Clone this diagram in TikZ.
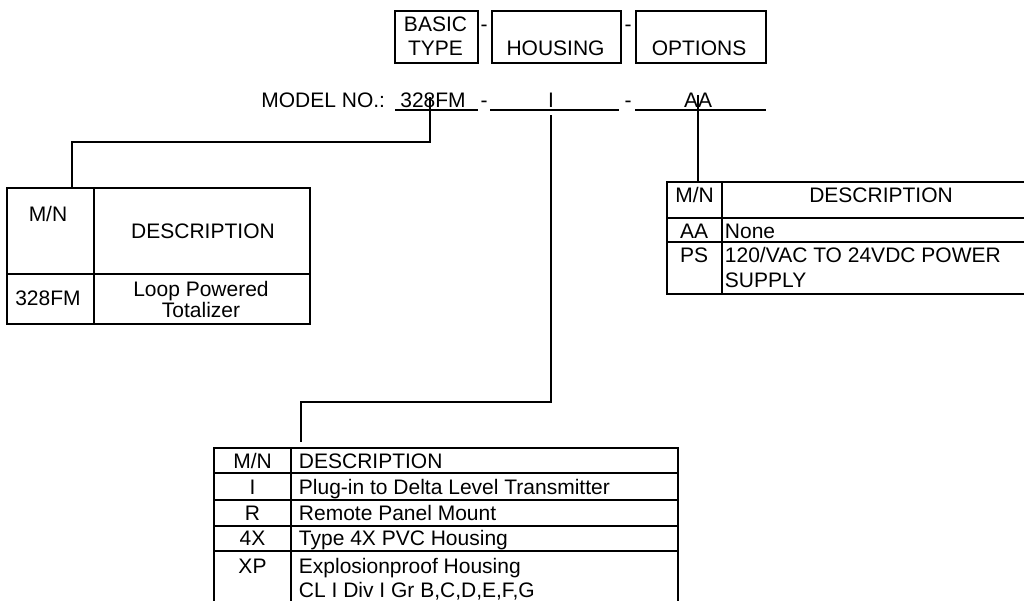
\documentclass[tikz,border=0pt]{standalone}
\usepackage{fontspec}
\setmainfont{Liberation Sans}

\begin{document}
\begin{tikzpicture}[x=1pt,y=-1pt,line width=1.9pt,
   lbl/.style={inner sep=0pt,anchor=base,font=\fontsize{21}{24}\selectfont},
   lbll/.style={lbl,anchor=base west},
   cell/.style={draw,inner sep=0pt,anchor=north west},
   tap/.style={line width=1.5pt}]
   \useasboundingbox (0,0) rectangle (1024,600);
   \clip (0,0) rectangle (1024,600);

   \node[cell,minimum width=83pt,minimum height=52pt] (basicbox) at (394,10) {};
   \node[cell,minimum width=129pt,minimum height=52pt] (housingbox) at (491,10) {};
   \node[cell,minimum width=130pt,minimum height=52pt] (optionsbox) at (635,10) {};
   \node[lbl] (basic) at (435.5,31) {BASIC};
   \node[lbl] (type) at (435.5,55) {TYPE};
   \node[lbl] (housing) at (555.5,55) {HOUSING};
   \node[lbl] (options) at (699,55) {OPTIONS};
   \node[lbl] (hdasha) at (484,31) {-};
   \node[lbl] (hdashb) at (628,31) {-};

   \node[lbl,anchor=base east] (modelno) at (386,107) {MODEL NO.:};
   \node[lbl] (mbasic) at (433,107) {328FM};
   \node[lbl] (mhousing) at (551,107) {I};
   \node[lbl] (moptions) at (698,107) {AA};
   \node[lbl] (mdasha) at (484,107) {-};
   \node[lbl] (mdashb) at (628,107) {-};
   \draw[tap] (395,110) -- (478,110);
   \draw[tap] (490,110) -- (619,110);
   \draw[tap] (635,110) -- (766,110);

   \draw (7,188) rectangle (310,324);
   \draw (94,188) -- (94,324);
   \draw (7,274) -- (310,274);
   \node[cell,draw=none,minimum width=303pt,minimum height=136pt] (basictab) at (7,188) {};
   \node[lbl] (bmn) at (48,221) {M/N};
   \node[lbl] (bdesc) at (203,238) {DESCRIPTION};
   \node[lbl] (bcode) at (48,305) {328FM};
   \node[lbl] (bloop) at (201,296) {Loop Powered};
   \node[lbl] (btot) at (201,317) {Totalizer};

   \draw (667,182) rectangle (1040,294);
   \draw (722,182) -- (722,294);
   \draw (667,218) -- (1040,218);
   \draw (667,242) -- (1040,242);
   \node[cell,draw=none,minimum width=373pt,minimum height=112pt] (optionstab) at (667,182) {};
   \node[lbl] (omn) at (694.5,202) {M/N};
   \node[lbl] (odesc) at (881,202) {DESCRIPTION};
   \node[lbl] (oaa) at (694,238) {AA};
   \node[lbll] (onone) at (724,238) {None};
   \node[lbl] (ops) at (694,262) {PS};
   \node[lbll] (opsa) at (724,262) {120/VAC TO 24VDC POWER};
   \node[lbll] (opsb) at (724,287) {SUPPLY};

   \draw (214,448) rectangle (678,615);
   \draw (291,448) -- (291,615);
   \foreach \y in {473,500,526,551}
      \draw (214,\y) -- (678,\y);
   \node[cell,draw=none,minimum width=464pt,minimum height=167pt] (housingtab) at (214,448) {};
   \node[lbl] (hmn) at (252.5,468) {M/N};
   \node[lbll] (hdesc) at (298,468) {DESCRIPTION};
   \node[lbl] (hi) at (252.5,494) {I};
   \node[lbll] (hidesc) at (298,494) {Plug-in to Delta Level Transmitter};
   \node[lbl] (hr) at (252.5,520) {R};
   \node[lbll] (hrdesc) at (298,520) {Remote Panel Mount};
   \node[lbl] (hx) at (252.5,545) {4X};
   \node[lbll] (hxdesc) at (298,545) {Type 4X PVC Housing};
   \node[lbl] (hxp) at (252.5,573) {XP};
   \node[lbll] (hxpa) at (298,573) {Explosionproof Housing};
   \node[lbll] (hxpb) at (298,597) {CL I Div I Gr B,C,D,E,F,G};

   \coordinate (tapbasic) at (430,97);
   \coordinate (taphousing) at (551,115);
   \coordinate (tapoptions) at (698,95);
   \coordinate (endhousing) at (301,442);
   \draw[tap] (tapbasic) |- (72,142) -- (basictab.north west -| 72,0);
   \draw[tap] (taphousing) |- (301,402) -- (endhousing);
   \draw[tap] (tapoptions) -- (optionstab.north west -| tapoptions);
\end{tikzpicture}
\end{document}
